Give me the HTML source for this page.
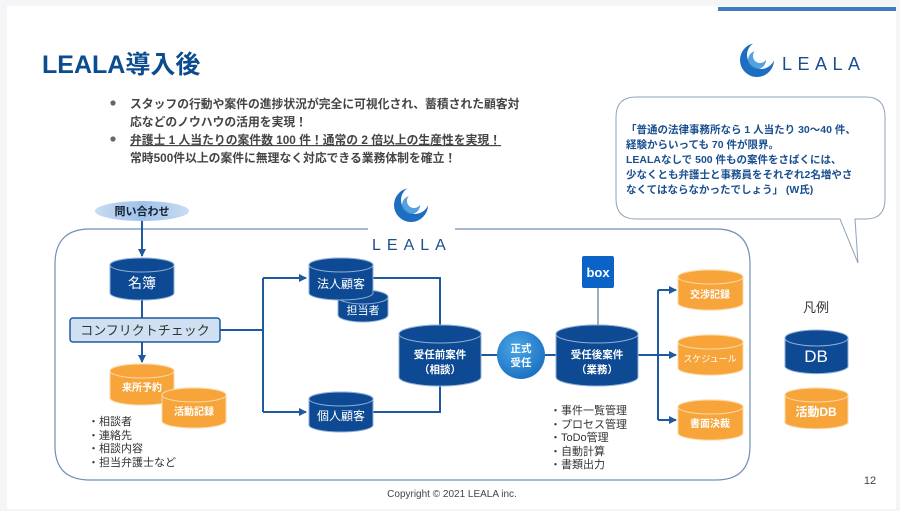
<!DOCTYPE html>
<html><head><meta charset="utf-8"><style>
body{margin:0;background:#fff;}
svg{display:block;font-family:"Liberation Sans","Noto Sans CJK JP",sans-serif;}
</style></head><body>
<svg width="900" height="511" viewBox="0 0 900 511" xmlns="http://www.w3.org/2000/svg">
<defs>
<marker id="ar" markerWidth="8" markerHeight="8" refX="7" refY="4" orient="auto" markerUnits="userSpaceOnUse"><path d="M0,0 L8,4 L0,8 Z" fill="#1f5aa0"/></marker>
<linearGradient id="ell" x1="0" y1="0" x2="1" y2="0"><stop offset="0" stop-color="#c9dcf2"/><stop offset="0.5" stop-color="#9fc1ea"/><stop offset="1" stop-color="#c9dcf2"/></linearGradient>
<radialGradient id="circ" cx="0.4" cy="0.35" r="0.7"><stop offset="0" stop-color="#4aa6e8"/><stop offset="1" stop-color="#1a6fc0"/></radialGradient>
</defs>
<rect x="0" y="0" width="900" height="511" fill="#f4f5f6"/>
<rect x="7" y="6" width="889" height="503" fill="#fff"/>
<rect x="718" y="7" width="178" height="4" fill="#3d7cc0"/>
<text x="42" y="73" font-size="25" font-weight="bold" fill="#0b4b8f">LEALA導入後</text>
<g font-size="11.8" fill="#444" font-weight="bold">
<circle cx="113" cy="103" r="2.6" fill="#666"/>
<text x="130" y="108">スタッフの行動や案件の進捗状況が完全に可視化され、蓄積された顧客対</text>
<text x="130" y="126">応などのノウハウの活用を実現！</text>
<circle cx="113" cy="139" r="2.6" fill="#666"/>
<text x="130" y="144" text-decoration="underline">弁護士 1 人当たりの案件数 100 件！通常の 2 倍以上の生産性を実現！</text>
<text x="130" y="162">常時500件以上の案件に無理なく対応できる業務体制を確立！</text>
</g>
<!-- top logo -->
<g>
<circle cx="757" cy="60" r="17" fill="#1d6dc0"/>
<circle cx="761" cy="55" r="14" fill="#fff"/>
<circle cx="757" cy="60" r="9" fill="#2a88d6" opacity="0.8"/>
<circle cx="760" cy="56" r="7" fill="#fff"/>
<text x="782" y="70" font-size="18" fill="#1a4f8f" letter-spacing="5.5">LEALA</text>
</g>
<!-- speech bubble -->
<path d="M636,97 H866 Q885,97 885,117 V199 Q885,219 866,219 H855 L858,263 L840,219 H636 Q616,219 616,199 V117 Q616,97 636,97 Z" fill="#fff" stroke="#8fa3b8" stroke-width="1"/>
<g font-size="10.5" font-weight="bold" fill="#1a4f8f">
<text x="626" y="133">「普通の法律事務所なら 1 人当たり 30～40 件、</text>
<text x="626" y="148">経験からいっても 70 件が限界。</text>
<text x="626" y="163">LEALAなしで 500 件もの案件をさばくには、</text>
<text x="626" y="178">少なくとも弁護士と事務員をそれぞれ2名増やさ</text>
<text x="626" y="193">なくてはならなかったでしょう」 (W氏)</text>
</g>
<!-- big rounded container -->
<path d="M368,229 H90 Q55,229 55,264 V446 Q55,480 90,480 H716 Q750,480 750,446 V264 Q750,229 716,229 H455" fill="none" stroke="#6f8fb5" stroke-width="1.2"/>
<!-- center logo -->
<circle cx="411" cy="205" r="17" fill="#1d6dc0"/>
<circle cx="415" cy="200" r="14" fill="#fff"/>
<circle cx="411" cy="205" r="9" fill="#2a88d6" opacity="0.8"/>
<circle cx="414" cy="201" r="7" fill="#fff"/>
<text x="372" y="250" font-size="16" fill="#1a4f8f" letter-spacing="6">LEALA</text>
<!-- inquiry -->
<ellipse cx="142" cy="211" rx="47" ry="10" fill="url(#ell)"/>
<text x="142" y="215" font-size="11" font-weight="bold" fill="#123" text-anchor="middle">問い合わせ</text>
<g stroke="#1f5aa0" stroke-width="2" fill="none">
<line x1="142" y1="221" x2="142" y2="256" marker-end="url(#ar)"/>
<line x1="142" y1="300" x2="142" y2="318"/>
<line x1="142" y1="342" x2="142" y2="362" marker-end="url(#ar)"/>
<polyline points="220,330 263,330"/>
<polyline points="263,278 263,412"/>
<line x1="263" y1="278" x2="306" y2="278" marker-end="url(#ar)"/>
<line x1="263" y1="412" x2="306" y2="412" marker-end="url(#ar)"/>
<polyline points="373,278 440,278 440,326"/>
<polyline points="373,412 440,412 440,384"/>
<line x1="481" y1="355" x2="498" y2="355"/>
<line x1="545" y1="355" x2="557" y2="355"/>
<line x1="638" y1="355" x2="676" y2="355" marker-end="url(#ar)"/>
<polyline points="658,290 658,420"/>
<line x1="658" y1="290" x2="676" y2="290" marker-end="url(#ar)"/>
<line x1="658" y1="420" x2="676" y2="420" marker-end="url(#ar)"/>
</g>
<line x1="598" y1="288" x2="598" y2="326" stroke="#7b93ad" stroke-width="1.5"/>
<!-- conflict box -->
<rect x="70" y="318" width="150" height="24" rx="3" fill="#cfe0f3" stroke="#1f5aa0" stroke-width="1.5"/>
<text x="145" y="335" font-size="13" fill="#333" text-anchor="middle">コンフリクトチェック</text>
<g fill="#0d4a93" stroke="#8fb0d8" stroke-width="1">
<path d="M110,265 A32,7 0 0 1 174,265 V293 A32,7 0 0 1 110,293 Z"/><ellipse cx="142" cy="265" rx="32" ry="7"/>
<path d="M338,297 A25,7 0 0 1 388,297 V315 A25,7 0 0 1 338,315 Z"/><ellipse cx="363" cy="297" rx="25" ry="7"/>
<path d="M309,265 A32,7 0 0 1 373,265 V293 A32,7 0 0 1 309,293 Z"/><ellipse cx="341" cy="265" rx="32" ry="7"/>
<path d="M309,399 A32,7 0 0 1 373,399 V425 A32,7 0 0 1 309,425 Z"/><ellipse cx="341" cy="399" rx="32" ry="7"/>
<path d="M399,334 A41,9 0 0 1 481,334 V377 A41,9 0 0 1 399,377 Z"/><ellipse cx="440" cy="334" rx="41" ry="9"/>
<path d="M556,334 A41,9 0 0 1 638,334 V377 A41,9 0 0 1 556,377 Z"/><ellipse cx="597" cy="334" rx="41" ry="9"/>
<path d="M785,338 A32,8 0 0 1 848,338 V367 A32,8 0 0 1 785,367 Z"/><ellipse cx="816.5" cy="338" rx="31.5" ry="8"/>
</g>
<g fill="#f7a43a" stroke="#fcd9a6" stroke-width="1">
<path d="M110,371 A32,7 0 0 1 174,371 V398 A32,7 0 0 1 110,398 Z"/><ellipse cx="142" cy="371" rx="32" ry="7"/>
<path d="M162,395 A32,7 0 0 1 226,395 V421 A32,7 0 0 1 162,421 Z"/><ellipse cx="194" cy="395" rx="32" ry="7"/>
<path d="M678,277 A32,7 0 0 1 743,277 V303 A32,7 0 0 1 678,303 Z"/><ellipse cx="710.5" cy="277" rx="32.5" ry="7"/>
<path d="M678,342 A32,7 0 0 1 743,342 V368 A32,7 0 0 1 678,368 Z"/><ellipse cx="710.5" cy="342" rx="32.5" ry="7"/>
<path d="M678,407 A32,7 0 0 1 743,407 V433 A32,7 0 0 1 678,433 Z"/><ellipse cx="710.5" cy="407" rx="32.5" ry="7"/>
<path d="M785,395 A32,7 0 0 1 848,395 V423 A32,7 0 0 1 785,423 Z"/><ellipse cx="816.5" cy="395" rx="31.5" ry="7"/>
</g>
<g fill="#fff" text-anchor="middle">
<text x="142" y="288" font-size="14">名簿</text>
<text x="341" y="288" font-size="12">法人顧客</text>
<text x="363" y="314" font-size="11">担当者</text>
<text x="341" y="420" font-size="12">個人顧客</text>
<text x="440" y="358" font-size="10.5" font-weight="bold">受任前案件</text>
<text x="440" y="373" font-size="10.5" font-weight="bold">（相談）</text>
<text x="597" y="358" font-size="10.5" font-weight="bold">受任後案件</text>
<text x="597" y="373" font-size="10.5" font-weight="bold">（業務）</text>
<text x="816" y="362" font-size="17">DB</text>
<text x="142" y="391" font-size="10" font-weight="bold">来所予約</text>
<text x="194" y="415" font-size="10" font-weight="bold">活動記録</text>
<text x="710" y="298" font-size="10" font-weight="bold">交渉記録</text>
<text x="710" y="362" font-size="9">スケジュール</text>
<text x="710" y="427" font-size="10" font-weight="bold">書面決裁</text>
<text x="816" y="416" font-size="12" font-weight="bold">活動DB</text>
</g>
<circle cx="521" cy="355" r="24" fill="url(#circ)"/>
<text x="521" y="352" font-size="10.5" font-weight="bold" fill="#fff" text-anchor="middle">正式</text>
<text x="521" y="366" font-size="10.5" font-weight="bold" fill="#fff" text-anchor="middle">受任</text>
<rect x="582" y="256" width="32" height="32" rx="2" fill="#0b63c7"/>
<text x="598" y="277" font-size="13" font-weight="bold" fill="#fff" text-anchor="middle">box</text>
<text x="816" y="312" font-size="13" fill="#333" text-anchor="middle">凡例</text>
<g font-size="11" fill="#333">
<text x="88" y="425">・相談者</text>
<text x="88" y="439">・連絡先</text>
<text x="88" y="452">・相談内容</text>
<text x="88" y="466">・担当弁護士など</text>
<text x="550" y="414">・事件一覧管理</text>
<text x="550" y="428">・プロセス管理</text>
<text x="550" y="441">・ToDo管理</text>
<text x="550" y="455">・自動計算</text>
<text x="550" y="468">・書類出力</text>
</g>
<text x="452" y="497" font-size="10" fill="#444" text-anchor="middle">Copyright © 2021 LEALA inc.</text>
<text x="870" y="484" font-size="11" fill="#444" text-anchor="middle">12</text>
</svg>
</body></html>
